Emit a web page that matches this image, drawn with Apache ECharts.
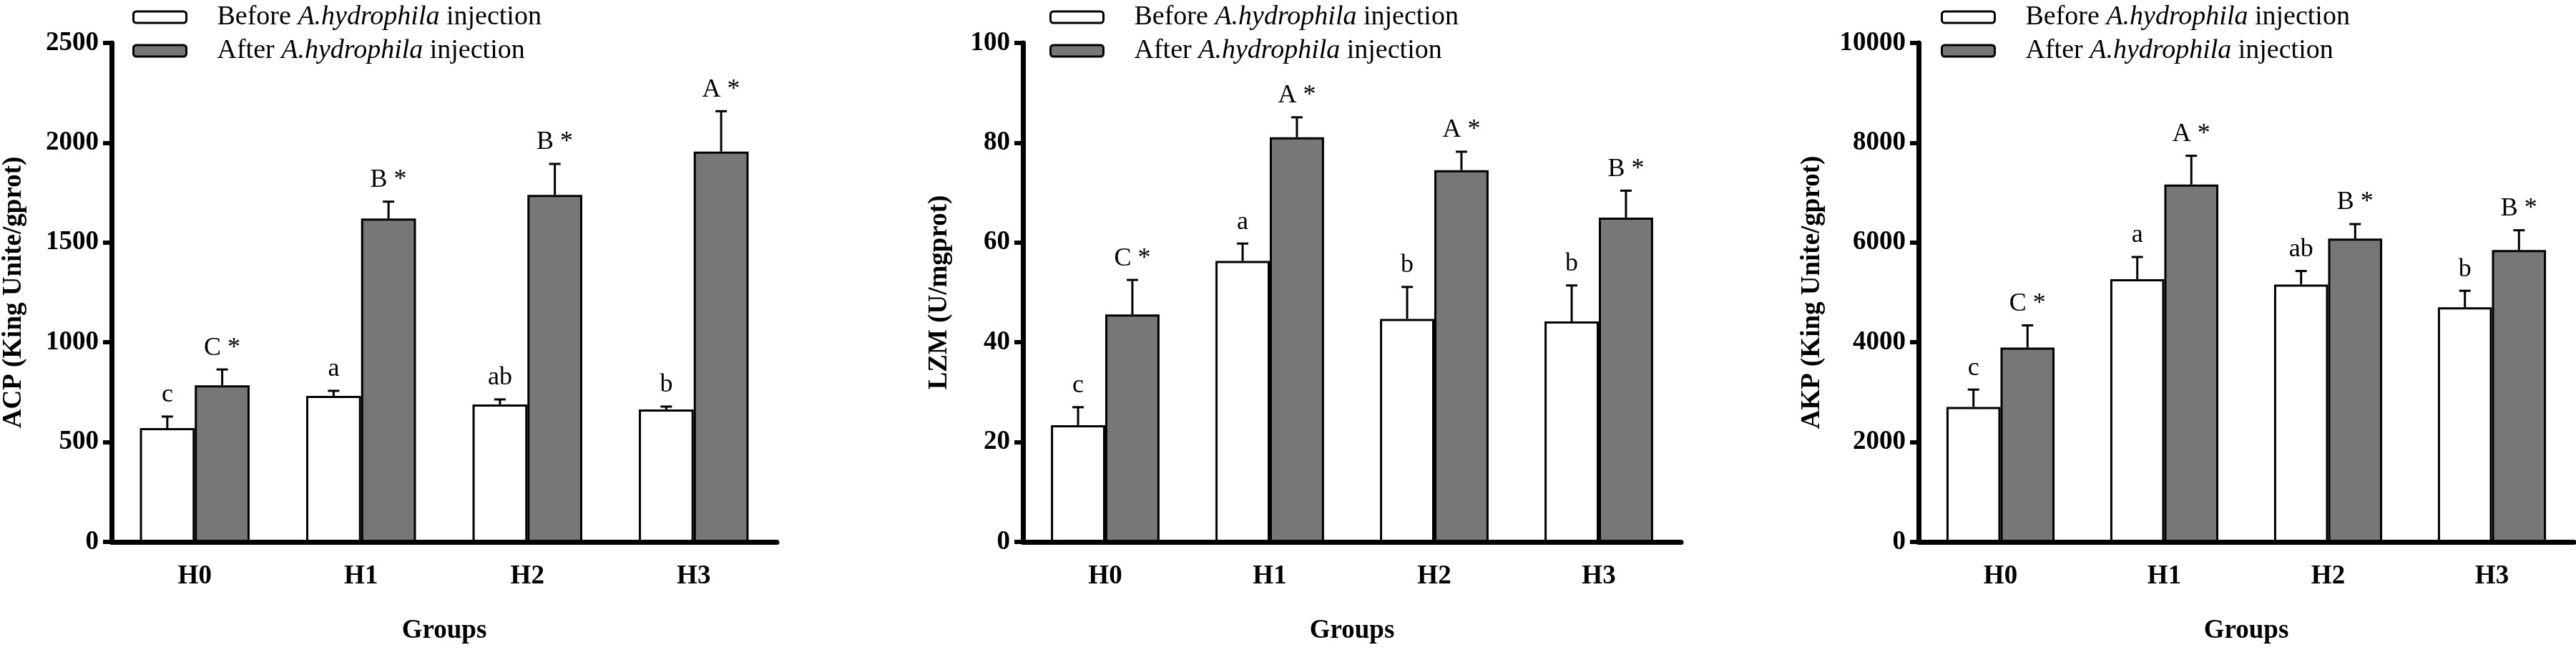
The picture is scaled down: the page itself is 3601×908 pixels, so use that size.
<!DOCTYPE html>
<html>
<head>
<meta charset="utf-8">
<script src="https://cdn.jsdelivr.net/npm/echarts@6/dist/echarts.min.js"></script>
<style>
html,body{margin:0;padding:0;background:#fff;}
#chart{width:3601px;height:908px;}
</style>
</head>
<body>
<div id="chart"></div>
<script>
// ---- data ----
const categories = ['H0', 'H1', 'H2', 'H3'];
const seriesNames = ['Before A.hydrophila injection', 'After A.hydrophila injection'];

const acpBefore = [570, 732, 689, 664];
const acpBeforeErr = [58, 25, 25, 14];
const acpAfter = [785, 1620, 1739, 1956];
const acpAfterErr = [79, 85, 155, 202];
const acpBeforeLabels = ['c', 'a', 'ab', 'b'];
const acpAfterLabels = ['C *', 'B *', 'B *', 'A *'];

const lzmBefore = [23.4, 56.3, 44.7, 44.2];
const lzmBeforeErr = [3.6, 3.5, 6.4, 7.2];
const lzmAfter = [45.6, 81.1, 74.5, 65.0];
const lzmAfterErr = [6.9, 4.0, 3.7, 5.4];
const lzmBeforeLabels = ['c', 'a', 'b', 'b'];
const lzmAfterLabels = ['C *', 'A *', 'A *', 'B *'];

const akpBefore = [2706, 5264, 5157, 4703];
const akpBeforeErr = [347, 446, 272, 330];
const akpAfter = [3894, 7162, 6081, 5850];
const akpAfterErr = [446, 577, 289, 396];
const akpBeforeLabels = ['c', 'a', 'ab', 'b'];
const akpAfterLabels = ['C *', 'A *', 'B *', 'B *'];

const yNames = ['ACP (King Unite/gprot)', 'LZM (U/mgprot)', 'AKP (King Unite/gprot)'];
const yMax = [2500, 100, 10000];
const yInterval = [500, 20, 2000];

// ---- layout / style ----
const FONT = "'Liberation Serif', 'Times New Roman', serif";
const BAR_FRAC = 0.33;
const grids = [
  {left: 156, top: 60, width: 930, height: 697},
  {left: 1430, top: 60, width: 920, height: 697},
  {left: 2682, top: 60, width: 916, height: 697}
];
const legendLefts = [180, 1462, 2708];
const yNameGaps = [118, 98, 130];

const panels = [
  {b: acpBefore, be: acpBeforeErr, a: acpAfter, ae: acpAfterErr, bl: acpBeforeLabels, al: acpAfterLabels},
  {b: lzmBefore, be: lzmBeforeErr, a: lzmAfter, ae: lzmAfterErr, bl: lzmBeforeLabels, al: lzmAfterLabels},
  {b: akpBefore, be: akpBeforeErr, a: akpAfter, ae: akpAfterErr, bl: akpBeforeLabels, al: akpAfterLabels}
];

function errRender(sign, labels) {
  return function (params, api) {
    const idx = api.value(0);
    const v = api.value(1);
    const e = api.value(2);
    const base = api.coord([idx, v]);
    const top = api.coord([idx, v + e]);
    const band = api.size([1, 0])[0];
    const x = base[0] + sign * band * BAR_FRAC / 2;
    const cap = 8;
    return {
      type: 'group',
      children: [
        {type: 'line', shape: {x1: x, y1: base[1], x2: x, y2: top[1]}, style: {stroke: '#000', lineWidth: 3}},
        {type: 'line', shape: {x1: x - cap, y1: top[1], x2: x + cap, y2: top[1]}, style: {stroke: '#000', lineWidth: 3}},
        {type: 'text', x: x, y: top[1] - 12,
          style: {text: labels[params.dataIndex], align: 'center', verticalAlign: 'bottom',
            fontSize: 36, fontFamily: FONT, fill: '#000'}}
      ]
    };
  };
}

const option = {
  backgroundColor: '#fff',
  animation: false,
  grid: grids,
  legend: legendLefts.map(l => ({
    left: l, top: 0, orient: 'vertical', selectedMode: false,
    itemWidth: 74, itemHeight: 16, itemGap: 9,
    itemStyle: {borderColor: '#000', borderWidth: 3},
    data: seriesNames,
    formatter: function (name) {
      const pre = name.startsWith('Before') ? 'Before ' : 'After ';
      return '{n|' + pre + '}{i|A.hydrophila}{n| injection}';
    },
    textStyle: {
      padding: [0, 0, 0, 38],
      lineHeight: 36,
      rich: {
        n: {fontFamily: FONT, fontSize: 38, color: '#000', lineHeight: 36},
        i: {fontFamily: FONT, fontSize: 38, fontStyle: 'italic', color: '#000', lineHeight: 36}
      }
    }
  })),
  xAxis: grids.map((g, i) => ({
    type: 'category', gridIndex: i, data: categories,
    name: 'Groups', nameLocation: 'middle', nameGap: 106,
    nameTextStyle: {fontFamily: FONT, fontWeight: 'bold', fontSize: 37, color: '#000'},
    axisLine: {lineStyle: {color: '#000', width: 7}},
    axisTick: {alignWithLabel: true, length: 12, lineStyle: {color: '#000', width: 6}},
    axisLabel: {fontFamily: FONT, fontWeight: 'bold', fontSize: 37, color: '#000', margin: 30},
    splitLine: {show: false}
  })),
  yAxis: grids.map((g, i) => ({
    type: 'value', gridIndex: i, min: 0, max: yMax[i], interval: yInterval[i],
    name: yNames[i], nameLocation: 'middle', nameGap: yNameGaps[i], nameRotate: 90,
    nameTextStyle: {fontFamily: FONT, fontWeight: 'bold', fontSize: 37, color: '#000'},
    axisLine: {show: true, lineStyle: {color: '#000', width: 7}},
    axisTick: {show: true, length: 12, lineStyle: {color: '#000', width: 6}},
    axisLabel: {fontFamily: FONT, fontWeight: 'bold', fontSize: 37, color: '#000', margin: 18,
      formatter: function (v) { return String(v); }},
    splitLine: {show: false}
  })),
  series: []
};

panels.forEach((p, i) => {
  option.series.push({
    name: seriesNames[0], type: 'bar', xAxisIndex: i, yAxisIndex: i,
    data: p.b, barWidth: (BAR_FRAC * 100) + '%', barGap: '0%',
    itemStyle: {color: '#ffffff', borderColor: '#000', borderWidth: 3}
  });
  option.series.push({
    name: seriesNames[1], type: 'bar', xAxisIndex: i, yAxisIndex: i,
    data: p.a, barWidth: (BAR_FRAC * 100) + '%', barGap: '0%',
    itemStyle: {color: '#777777', borderColor: '#000', borderWidth: 3}
  });
  option.series.push({
    type: 'custom', xAxisIndex: i, yAxisIndex: i, z: 5,
    renderItem: errRender(-1, p.bl),
    data: p.b.map((v, k) => [k, v, p.be[k]])
  });
  option.series.push({
    type: 'custom', xAxisIndex: i, yAxisIndex: i, z: 5,
    renderItem: errRender(1, p.al),
    data: p.a.map((v, k) => [k, v, p.ae[k]])
  });
});

const chart = echarts.init(document.getElementById('chart'), null, {renderer: 'canvas'});
chart.setOption(option);
</script>
</body>
</html>
